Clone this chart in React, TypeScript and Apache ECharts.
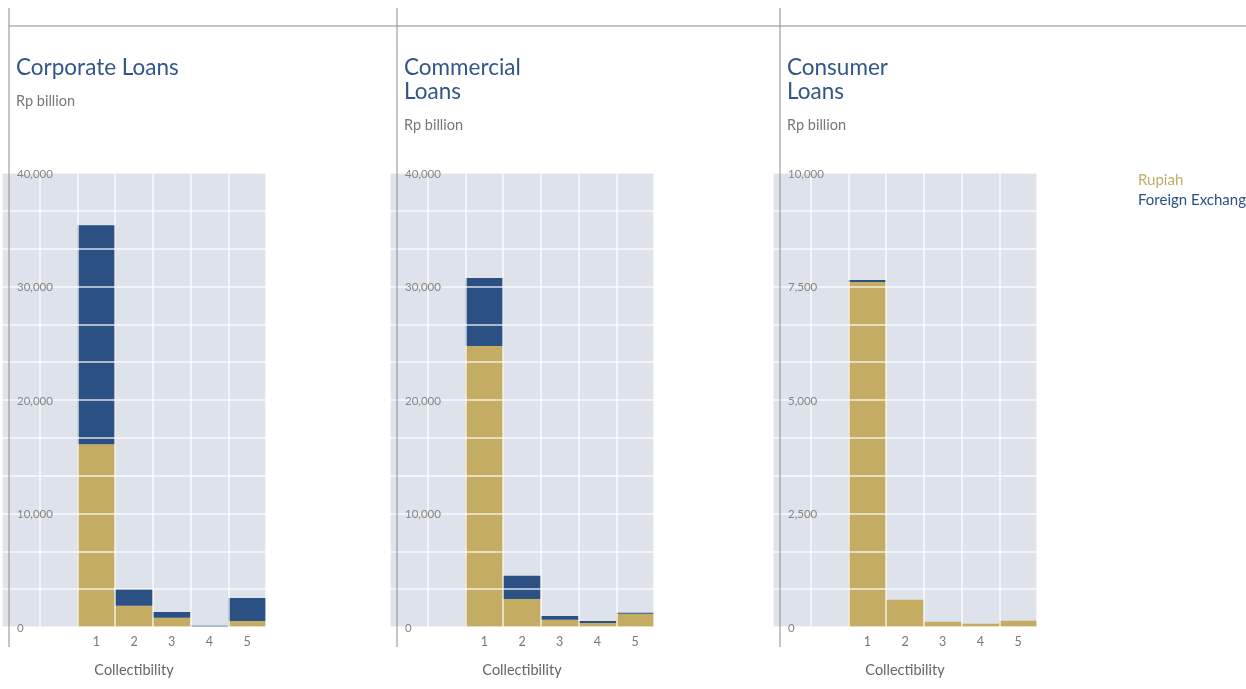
import React, { useEffect, useRef } from "react";
import * as echarts from "echarts";

const CATEGORIES = ["1", "2", "3", "4", "5"];
const PAD_SLOTS = ["", ""];

const CORPORATE_RUPIAH = [16100, 1880, 820, 10, 530];
const CORPORATE_FX = [19300, 1470, 500, 110, 2030];
const COMMERCIAL_RUPIAH = [24760, 2470, 640, 350, 1170];
const COMMERCIAL_FX = [5990, 2050, 330, 180, 90];
const CONSUMER_RUPIAH = [7600, 600, 117, 73, 139];
const CONSUMER_FX = [45, 1, 0, 0, 0];

const PANEL_TITLES = ["Corporate Loans", "Commercial\nLoans", "Consumer\nLoans"];
const UNIT = "Rp billion";
const Y_MAX = [40000, 40000, 10000];
const Y_STEP = [10000, 10000, 2500];
const X_NAME = "Collectibility";
const LEGEND = ["Rupiah", "Foreign Exchange"];

const GOLD = "#c4ac63";
const BLUE = "#2b5083";
const TITLE_BLUE = "#33568a";
const BG = "#dee3eb";
const FONT = "Lato, 'Open Sans', sans-serif";

export default function App() {
  const ref = useRef<HTMLDivElement>(null);
  useEffect(() => {
    if (!ref.current) return;
    const chart = echarts.init(ref.current, undefined, { renderer: "svg" });
    const lefts = [2, 390, 773];
    const lineXs = [9, 397, 780];
    const rupiah = [CORPORATE_RUPIAH, COMMERCIAL_RUPIAH, CONSUMER_RUPIAH];
    const fx = [CORPORATE_FX, COMMERCIAL_FX, CONSUMER_FX];
    const axisData = [...PAD_SLOTS, ...CATEGORIES];
    const pad = PAD_SLOTS.map(() => null);

    const grid = lefts.map((l) => ({
      left: l,
      width: 264,
      top: 173,
      height: 454,
      show: true,
      backgroundColor: BG,
      borderWidth: 0,
      containLabel: false,
    }));

    const splitStyle = { color: "rgba(255,255,255,0.8)", width: 1.5 };

    const xAxis = lefts.map((_, i) => ({
      type: "category",
      gridIndex: i,
      data: axisData,
      z: 5,
      axisLine: { show: false },
      axisTick: { show: false },
      axisLabel: { color: "#777", fontSize: 12.5, fontFamily: FONT, margin: 8, interval: 0 },
      splitLine: { show: true, interval: 0, lineStyle: splitStyle },
      name: X_NAME,
      nameLocation: "middle",
      nameGap: 35,
      nameTextStyle: { color: "#666", fontSize: 14.5, fontFamily: FONT },
    }));

    const yAxis = lefts.map((_, i) => ({
      type: "value",
      gridIndex: i,
      min: 0,
      max: Y_MAX[i],
      interval: Y_STEP[i],
      z: 5,
      axisLine: { show: false },
      axisTick: { show: false },
      axisLabel: {
        inside: true,
        margin: 15,
        color: "#858585",
        fontSize: 11.5,
        fontFamily: FONT,
        formatter: (v: number) => v.toLocaleString("en-US"),
      },
      splitLine: { show: true, lineStyle: splitStyle },
      minorTick: { show: false, splitNumber: 3 },
      minorSplitLine: { show: true, lineStyle: splitStyle },
    }));

    const series: any[] = [];
    lefts.forEach((_, i) => {
      series.push({
        type: "bar",
        name: LEGEND[0],
        xAxisIndex: i,
        yAxisIndex: i,
        stack: "s" + i,
        barCategoryGap: "0%",
        data: [...pad, ...rupiah[i]],
        itemStyle: { color: GOLD },
      });
      series.push({
        type: "bar",
        name: LEGEND[1],
        xAxisIndex: i,
        yAxisIndex: i,
        stack: "s" + i,
        barCategoryGap: "0%",
        data: [...pad, ...fx[i]],
        itemStyle: { color: BLUE },
      });
    });

    const title = PANEL_TITLES.map((t, i) => ({
      text: t,
      subtext: UNIT,
      left: lineXs[i] + 7,
      top: 54,
      padding: 0,
      itemGap: 15,
      textStyle: {
        color: TITLE_BLUE,
        fontSize: 22.5,
        fontWeight: "normal",
        fontFamily: FONT,
        lineHeight: 24,
      },
      subtextStyle: { color: "#777", fontSize: 14.5, fontFamily: FONT },
    }));

    const graphic: any[] = [
      {
        type: "line",
        shape: { x1: 9, y1: 26, x2: 1246, y2: 26 },
        style: { stroke: "#8a8a8a", lineWidth: 1 },
        silent: true,
      },
      ...lineXs.map((x) => ({
        type: "line",
        shape: { x1: x, y1: 8, x2: x, y2: 647 },
        style: { stroke: "#8a8a8a", lineWidth: 1 },
        z: 10,
        silent: true,
      })),
    ];

    chart.setOption({
      animation: false,
      title,
      grid,
      xAxis,
      yAxis,
      series,
      graphic,
      legend: {
        orient: "vertical",
        left: 1133,
        top: 171,
        icon: "none",
        itemWidth: 0,
        itemHeight: 10,
        itemGap: 5,
        padding: 0,
        data: [
          { name: LEGEND[0], textStyle: { color: GOLD } },
          { name: LEGEND[1], textStyle: { color: BLUE } },
        ],
        textStyle: { fontSize: 15, fontFamily: FONT },
      },
    });
    return () => chart.dispose();
  }, []);
  return (
    <div
      ref={ref}
      style={{ position: "fixed", left: 0, top: 0, width: 1246, height: 689 }}
    />
  );
}
